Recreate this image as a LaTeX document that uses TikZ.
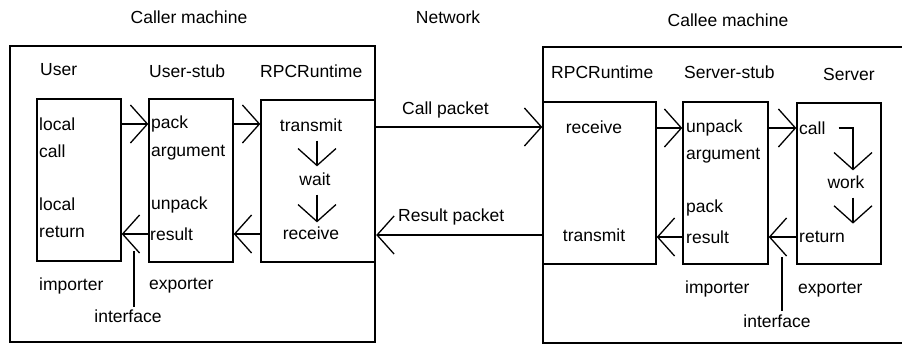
\documentclass[tikz,border=0pt]{standalone}
\usepackage{fontspec}
\setmainfont{Liberation Sans}
\usetikzlibrary{arrows.meta}

\begin{document}
\begin{tikzpicture}[x=1pt,y=-1pt,
    box/.style={draw, line width=1.4pt, inner sep=0pt},
    machine/.style={draw, line width=2.4pt, inner sep=0pt, minimum height=296pt},
    word/.style={inner sep=0pt, anchor=west, font=\fontsize{17.5}{20}\selectfont},
    arr/.style={line width=1.3pt, arrows={-Straight Barb[length=17pt,width=38pt]}}]
    \useasboundingbox (0,0) rectangle (902,346);
    % machines
    \node[machine, minimum width=365pt] (caller) at (192.5,194) {};
    \node[machine, minimum width=390pt] (callee) at (738,195) {};
    \node[word, anchor=center] (callerlbl) at (189,17) {Caller machine};
    \node[word, anchor=center] (netlbl) at (448,17) {Network};
    \node[word, anchor=center] (calleelbl) at (728,20) {Callee machine};
    % caller side
    \node[box, minimum width=84pt, minimum height=162pt] (ubox) at (79,180) {};
    \node[box, minimum width=84pt, minimum height=163pt] (usbox) at (191,180.5) {};
    \node[box, minimum width=114pt, minimum height=162pt] (crbox) at (318,181) {};
    \node[word] (ulbl) at (40,70) {User};
    \node[word] (uslbl) at (149,71) {User-stub};
    \node[word] (crlbl) at (260,71) {RPCRuntime};
    \node[word] (ulocal) at (39,124) {local};
    \node[word] (ucall) at (39,151) {call};
    \node[word] (ulocalb) at (39,204) {local};
    \node[word] (uret) at (39,232) {return};
    \node[word] (spack) at (151,124) {pack};
    \node[word] (sarg) at (151,153) {argument};
    \node[word] (sunpack) at (151,205) {unpack};
    \node[word] (sres) at (150,234) {result};
    \node[word, anchor=center] (ctx) at (311,125) {transmit};
    \node[word, anchor=center] (cwait) at (315,179) {wait};
    \node[word, anchor=center] (crecv) at (311,233) {receive};
    \node[word] (uimp) at (39,286) {importer};
    \node[word] (uexp) at (149,286) {exporter};
    \node[word, anchor=center] (uif) at (128,316) {interface};
    \coordinate (uiftop) at (134,251);
    \draw[arr] (ubox.east |- ulocal) -- (usbox.west |- ulocal);
    \draw[arr] (usbox.east |- spack) -- (crbox.west |- spack);
    \draw[arr] (crbox.west |- sres) -- (usbox.east |- sres);
    \draw[arr] (usbox.west |- sres) -- (ubox.east |- sres);
    \draw[arr, shorten <=9pt, shorten >=6pt] ([xshift=2pt]cwait.north |- ctx.south) -- ([xshift=2pt]cwait.north);
    \draw[arr, shorten <=9pt, shorten >=4pt] ([xshift=2pt]cwait.south) -- ([xshift=2pt]cwait.south |- crecv.north);
    \draw[line width=1.3pt, shorten >=2pt] (uiftop) -- (uiftop |- uif.north);
    % network
    \node[word] (callpkt) at (402,110) {Call packet};
    \node[word] (respkt) at (398,217) {Result packet};
    % callee side
    \node[box, minimum width=113pt, minimum height=162pt] (erbox) at (599.5,183) {};
    \node[box, minimum width=85pt, minimum height=162pt] (ssbox) at (725.5,183) {};
    \node[box, minimum width=84pt, minimum height=161pt] (svbox) at (839,183.5) {};
    \node[word] (erlbl) at (551,72) {RPCRuntime};
    \node[word] (sslbl) at (684,72) {Server-stub};
    \node[word] (svlbl) at (823,74) {Server};
    \node[word, anchor=center] (erecv) at (594,127) {receive};
    \node[word, anchor=center] (etx) at (594,235) {transmit};
    \node[word] (tunpack) at (686,128) {unpack};
    \node[word] (targ) at (686,156) {argument};
    \node[word] (tpack) at (686,208) {pack};
    \node[word] (tres) at (686,237) {result};
    \node[word] (scall) at (799,128) {call};
    \node[word, anchor=center] (swork) at (846,182) {work};
    \node[word] (sret) at (799,237) {return};
    \node[word] (timp) at (685,289) {importer};
    \node[word] (texp) at (798,290) {exporter};
    \node[word, anchor=center] (tif) at (777,321) {interface};
    \coordinate (tiftop) at (782,257);
    \draw[arr] (erbox.east |- tunpack) -- (ssbox.west |- tunpack);
    \draw[arr] (ssbox.east |- tunpack) -- (svbox.west |- tunpack);
    \draw[arr] (svbox.west |- sret) -- (ssbox.east |- sret);
    \draw[arr] (ssbox.west |- sret) -- (erbox.east |- sret);
    \draw[arr, shorten >=5pt] ([xshift=13pt]scall.east) -| ([xshift=7pt]swork.north);
    \draw[arr] ([xshift=7pt,yshift=-9pt]swork.south) -- ++(0,26);
    \draw[line width=1.3pt, shorten >=3pt] (tiftop) -- (tiftop |- tif.north);
    % packets
    \draw[arr] (caller.east |- erecv) -- (erbox.west |- erecv);
    \draw[arr] (erbox.west |- etx) -- (caller.east |- etx);
\end{tikzpicture}
\end{document}
